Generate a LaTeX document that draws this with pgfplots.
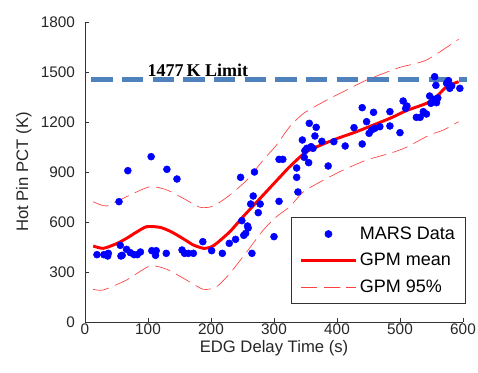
\documentclass[border=0pt]{standalone}
\usepackage{pgfplots}
\pgfplotsset{compat=1.18}
\usepackage{fontspec}
\setmainfont{Liberation Sans}
\newfontfamily\serifb{Liberation Serif}
\definecolor{limitblue}{HTML}{4F81BD}
\begin{document}
\begin{tikzpicture}
\begin{axis}[
  name=ax, at={(0,0)}, anchor=south west,
  scale only axis, width=283.5pt, height=225pt,
  xmin=0, xmax=600, ymin=0, ymax=1800,
  axis x line*=bottom, axis y line*=left,
  axis line style={black!80, line width=0.6pt},
  xtick={0,100,...,600}, ytick={0,300,...,1800},
  tick align=inside, major tick length=3pt,
  tick style={black!80, line width=0.6pt},
  ticklabel style={font=\fontsize{11.5}{13}\selectfont, text=black!85},
  /pgf/number format/assume math mode=true,
  /pgf/number format/1000 sep={},
  yticklabel style={xshift=-4pt},
  xticklabel style={yshift=2pt},
  xlabel={EDG Delay Time (s)}, ylabel={Hot Pin PCT (K)},
  label style={font=\fontsize{12.5}{14}\selectfont, text=black!85},
  xlabel style={yshift=3pt},
  ylabel style={yshift=0pt},
  clip=false,
  legend image code/.code={\draw[mark repeat=2,mark phase=2,#1] plot coordinates {(0pt,0pt) (20.5pt,0pt) (41pt,0pt)};},
  legend style={at={(1.008,0.35)}, anchor=north east, draw=black!80, line width=0.6pt,
     font=\fontsize{13.5}{15}\selectfont, row sep=5pt, inner xsep=6pt, inner ysep=5pt,
     cells={anchor=west}},
]
% limit line
\addplot[limitblue, line width=3pt, dash pattern=on 16pt off 7pt, forget plot] coordinates {(10,1455) (606,1455)};
\node[font=\serifb\bfseries\fontsize{13.5}{15}\selectfont, anchor=base] at (axis cs:179,1470) {1477\,K Limit};
% data
\addplot[only marks, mark=*, mark size=2.6pt, color=blue, mark options={fill=blue, draw=blue}] coordinates {
(19,404) (30,404) (36,396) (37,412) (54,722) (56,460) (57,396) (59,400) (66,436) (68,908)
(72,416) (78,404) (83,404) (88,420) (105,992) (106,428) (112,400) (113,428) (129,412) (130,916)
(146,858) (154,432) (158,412) (164,412) (172,412) (187,482) (201,428) (218,412) (229,472) (239,496)
(247,868) (249,608) (252,520) (255,532) (258,576) (259,564) (263,708) (265,412) (267,756) (269,900)
(275,656) (278,708) (300,512) (308,724) (308,976) (314,976) (336,924) (336,868) (338,780) (345,1092)
(348,988) (349,1028) (352,1042) (355,956) (356,1192) (359,1052) (362,1042) (365,1116) (367,1168) (376,1084)
(386,936) (395,1082) (413,1056) (427,1166) (440,1286) (440,1068) (447,1202) (451,1132) (455,1152) (458,1258)
(460,1162) (468,1172) (484,1262) (484,1176) (500,1136) (505,1326) (509,1282) (511,1296) (526,1228) (532,1228)
(537,1262) (542,1248) (547,1356) (549,1312) (554,1336) (555,1472) (557,1420) (558,1316) (560,1344) (574,1432)
(577,1448) (579,1402) (582,1416) (595,1402)
};
\addlegendentry{MARS Data}
\addplot[red, line width=2.2pt, smooth, tension=0.4] coordinates {
(13,456) (29,442) (50,470) (66,502) (82,540) (98,572) (119,568) (135,545) (146,522) (160,490)
(172,462) (188,442) (200,450) (209,472) (230,542) (251,632) (278,742) (310,872) (325,932) (352,1022)
(394,1092) (431,1142) (484,1222) (510,1268) (542,1312) (558,1352) (574,1412) (593,1442)
};
\addlegendentry{GPM mean}
\addplot[red!75, line width=0.5pt, dash pattern=on 12pt off 5pt, smooth, tension=0.4] coordinates {
(13,722) (34,696) (66,752) (103,812) (130,792) (156,742) (183,688) (204,696) (230,762) (257,852)
(283,972) (304,1062) (325,1172) (347,1252) (379,1322) (410,1382) (447,1452) (474,1492) (500,1528) (542,1572) (593,1696)
};
\addlegendentry{GPM 95\%}
\addplot[red!75, line width=0.5pt, dash pattern=on 12pt off 5pt, smooth, tension=0.4, forget plot] coordinates {
(13,196) (29,192) (66,252) (103,336) (130,316) (161,252) (188,196) (209,212) (230,292) (257,422)
(283,552) (304,632) (325,692) (347,782) (379,852) (410,912) (447,972) (484,1012) (510,1048) (547,1122) (569,1152) (593,1202)
};
\end{axis}
\pgfresetboundingbox
\path (-63.75pt,-37.5pt) rectangle (294.75pt,241.5pt);
\end{tikzpicture}
\end{document}
